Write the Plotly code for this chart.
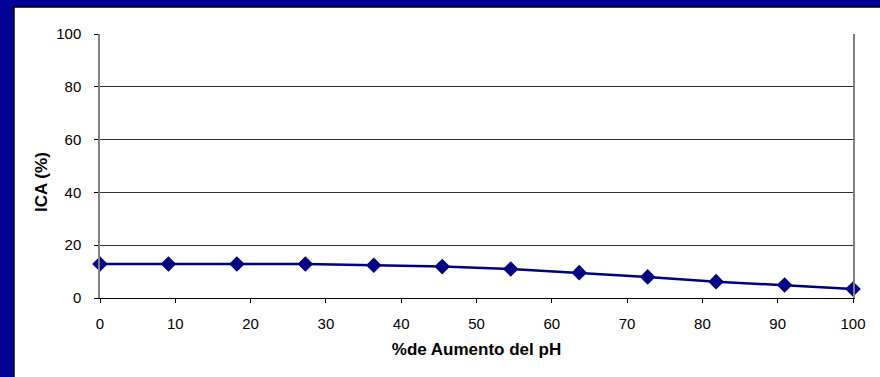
import plotly.graph_objects as go

x_vals = [0, 9.09, 18.18, 27.27, 36.36, 45.45, 54.55, 63.64, 72.73, 81.82, 90.91, 100]
ica = [12.9, 12.9, 12.9, 12.9, 12.4, 11.9, 11.0, 9.6, 8.0, 6.2, 4.9, 3.4]
x_ticks = [0, 10, 20, 30, 40, 50, 60, 70, 80, 90, 100]
y_ticks = [0, 20, 40, 60, 80, 100]
x_title = "%de Aumento del pH"
y_title = "ICA (%)"

W, H = 880, 377
L, R, T, B = 100, 27, 34, 79
pw, ph = W - L - R, H - T - B

def px(xp):
    return (xp - L) / pw

def py(yp):
    return (H - B - yp) / ph

fig = go.Figure()
fig.add_trace(go.Scatter(
    x=x_vals, y=ica, mode="lines+markers",
    line=dict(color="#000080", width=2.5),
    marker=dict(symbol="diamond", size=12, color="#000080"),
    cliponaxis=False, showlegend=False,
))

fig.add_shape(type="rect", xref="paper", yref="paper",
              x0=px(14), x1=px(882), y0=py(7), y1=py(379),
              fillcolor="white", line=dict(color="black", width=1.5), layer="below")

fig.add_annotation(text="<b>" + y_title + "</b>", xref="paper", yref="paper",
                   x=px(41), y=py(182), textangle=-90, showarrow=False,
                   font=dict(size=17), xanchor="center", yanchor="middle")

fig.update_layout(
    width=W, height=H,
    margin=dict(l=L, r=R, t=T, b=B),
    paper_bgcolor="#000096",
    plot_bgcolor="white",
    font=dict(family="Liberation Sans, Arial, sans-serif", size=15, color="black"),
    xaxis=dict(
        range=[0, 100], tickvals=x_ticks, showgrid=False, zeroline=False,
        showline=True, linecolor="black", linewidth=1,
        ticks="outside", ticklen=4, tickcolor="black", ticklabelstandoff=8,
        title=dict(text="<b>" + x_title + "</b>", font=dict(size=17), standoff=12),
    ),
    yaxis=dict(
        range=[0, 100], tickvals=y_ticks, showgrid=True, gridcolor="#333333", gridwidth=1,
        zeroline=False, showline=True, linecolor="#808080", linewidth=1.5, mirror=True,
        ticks="outside", ticklen=4, tickcolor="black", ticklabelstandoff=10,
    ),
)

fig.write_html("out.html")
